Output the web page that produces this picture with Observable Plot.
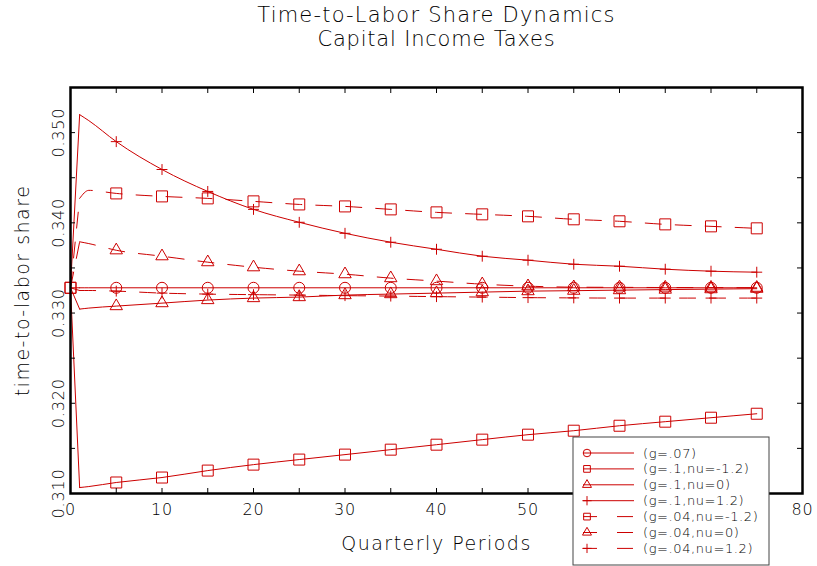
<!DOCTYPE html>
<html>
<head>
<meta charset="utf-8">
<script src="https://cdn.jsdelivr.net/npm/d3@7"></script>
<script src="https://cdn.jsdelivr.net/npm/@observablehq/plot@0.6"></script>
<style>
  html, body { margin: 0; padding: 0; background: #fff; }
  #chart { width: 817px; height: 566px; }
</style>
</head>
<body>
<div id="chart"></div>
<script>
// ---------------- data ----------------
const chartTitle = "Time-to-Labor Share Dynamics";
const chartSubtitle = "Capital Income Taxes";
const xTitle = "Quarterly Periods";
const yTitle = "time-to-labor share";

const periods = [0, 1, 2, 5, 10, 15, 20, 25, 30, 35, 40, 45, 50, 55, 60, 65, 70, 75];

const g07 =        [0.3328, 0.3328, 0.3328, 0.3328, 0.3328, 0.3328, 0.3328, 0.3328, 0.3328, 0.3328, 0.3328, 0.3328, 0.3328, 0.3328, 0.3328, 0.3328, 0.3328, 0.3328];
const g10_nuM12 =  [0.3328, 0.31066, 0.31077, 0.31122, 0.31177, 0.31254, 0.3132, 0.31376, 0.31431, 0.31486, 0.31541, 0.31597, 0.31652, 0.31696, 0.31751, 0.31796, 0.3184, 0.31884];
const g10_nu0 =    [0.3328, 0.33044, 0.33055, 0.33077, 0.3311, 0.33144, 0.33166, 0.33177, 0.33199, 0.3321, 0.33221, 0.33232, 0.33243, 0.33248, 0.33254, 0.3326, 0.33265, 0.3327];
const g10_nu12 =   [0.3328, 0.35199, 0.35133, 0.349, 0.34591, 0.34348, 0.34149, 0.34006, 0.33884, 0.33785, 0.33707, 0.3363, 0.33586, 0.33541, 0.33519, 0.33486, 0.33464, 0.33453];
const g04_nuM12 =  [0.3328, 0.34271, 0.3436, 0.34326, 0.34293, 0.34271, 0.34238, 0.34204, 0.34182, 0.34149, 0.34116, 0.34094, 0.34072, 0.34039, 0.34017, 0.33983, 0.33961, 0.33939];
const g04_nu0 =    [0.3328, 0.3379, 0.3377, 0.33696, 0.3363, 0.33564, 0.33508, 0.33464, 0.33431, 0.33387, 0.33354, 0.3332, 0.33298, 0.33287, 0.33285, 0.33283, 0.33282, 0.33281];
const g04_nu12 =   [0.3328, 0.3325, 0.3325, 0.33243, 0.33221, 0.3321, 0.33204, 0.33199, 0.33193, 0.33188, 0.33182, 0.33177, 0.33171, 0.33168, 0.33166, 0.33166, 0.33166, 0.33166];

const seriesLabels  = ["(g=.07)", "(g=.1,nu=-1.2)", "(g=.1,nu=0)", "(g=.1,nu=1.2)", "(g=.04,nu=-1.2)", "(g=.04,nu=0)", "(g=.04,nu=1.2)"];
const seriesValues  = [g07, g10_nuM12, g10_nu0, g10_nu12, g04_nuM12, g04_nu0, g04_nu12];
const seriesSymbols = ["circle", "square", "triangle", "plus", "square", "triangle", "plus"];
const seriesDashed  = [false, false, false, false, true, true, true];

// 60 and 70 sit under the legend box in the reference, so only the visible labels are kept
const xTickLabels = [0, 10, 20, 30, 40, 50, 80];
const xMinorTicks = [5, 10, 15, 20, 25, 30, 35, 40, 45, 50, 55, 60, 65, 70, 75];
const yTickLabels = [0.310, 0.320, 0.330, 0.340, 0.350];
const yMinorTicks = [0.315, 0.320, 0.325, 0.330, 0.335, 0.340, 0.345, 0.350];
const xDomain = [0, 80];
const yDomain = [0.310, 0.355];

// ---------------- build ----------------
const RED = "#cc0000";
const DASH = "16,14";
const FONT = "'DejaVu Sans', Verdana, sans-serif";
const TEXT = "#000";

const rows = [];
seriesLabels.forEach((s, i) => {
  periods.forEach((p, j) => {
    rows.push({series: s, x: p, y: seriesValues[i][j], sym: seriesSymbols[i], dashed: seriesDashed[i]});
  });
});

const isMarker = d => d.x % 5 === 0 && (d.x > 0 || d.sym === "square");
const symR = {circle: 5.5, square: 6.2, triangle: 4.6, plus: 3.6};

const lineMarks = [];
for (const dashed of [false, true]) {
  const sub = rows.filter(d => d.dashed === dashed);
  const opts = {stroke: RED, strokeWidth: 1, strokeDasharray: dashed ? DASH : null};
  lineMarks.push(Plot.line(sub.filter(d => d.x <= 1), {x: "x", y: "y", z: "series", curve: "linear", ...opts}));
  lineMarks.push(Plot.line(sub.filter(d => d.x >= 1), {x: "x", y: "y", z: "series", curve: "monotone-x", ...opts}));
}
const dotMarks = ["circle", "square", "triangle", "plus"].map(sym =>
  Plot.dot(rows.filter(d => d.sym === sym && isMarker(d)), {
    x: "x", y: "y", symbol: () => sym, r: symR[sym], stroke: RED, fill: "none", strokeWidth: 1
  })
);

const plot = Plot.plot({
  width: 817,
  height: 566,
  marginLeft: 70,
  marginRight: 15,
  marginTop: 87,
  marginBottom: 73,
  style: {fontFamily: FONT, fontSize: "16px", fontWeight: 200, background: "white", color: TEXT},
  x: {domain: xDomain, label: null},
  y: {domain: yDomain, label: null},
  symbol: {type: "identity"},
  marks: [
    ...lineMarks,
    ...dotMarks,
    // tick labels
    Plot.axisX({ticks: xTickLabels, tickSize: 0, tickPadding: 10, fontSize: 16, tickFormat: d3.format("d"), label: null}),
    Plot.axisY({ticks: yTickLabels, tickSize: 0, tickPadding: 7, fontSize: 16, tickRotate: -90, tickFormat: d3.format(".3f"), label: null}),
    // inward tick marks on all four sides
    Plot.axisX({anchor: "bottom", ticks: xMinorTicks, tickSize: -5, tickFormat: () => "", label: null}),
    Plot.axisX({anchor: "top", ticks: xMinorTicks, tickSize: -5, tickFormat: () => "", label: null}),
    Plot.axisY({anchor: "left", ticks: yMinorTicks, tickSize: -5, tickFormat: () => "", label: null}),
    Plot.axisY({anchor: "right", ticks: yMinorTicks, tickSize: -6, tickFormat: () => "", label: null}),
    Plot.frame({stroke: "black", strokeWidth: 2.5}),
    // titles
    Plot.text([chartTitle], {text: d => d, frameAnchor: "top", textAnchor: "middle", lineAnchor: "middle", dy: -72, fontSize: 21, fill: TEXT}),
    Plot.text([chartSubtitle], {text: d => d, frameAnchor: "top", textAnchor: "middle", lineAnchor: "middle", dy: -48, fontSize: 21, fill: TEXT}),
    Plot.text([xTitle], {text: d => d, frameAnchor: "bottom", textAnchor: "middle", lineAnchor: "middle", dy: 50, fontSize: 19, fill: TEXT}),
    Plot.text([yTitle], {text: d => d, frameAnchor: "left", textAnchor: "middle", lineAnchor: "middle", dx: -48, rotate: -90, fontSize: 19, fill: TEXT})
  ]
});

document.getElementById("chart").appendChild(plot);

// letter spacing for the wide plotter-style lettering
const spacing = new Map([[chartTitle, 1.2], [chartSubtitle, 0.8], [xTitle, 1.5], [yTitle, 1.5]]);
d3.select(plot).selectAll("text").each(function() {
  const t = this.textContent;
  if (spacing.has(t)) this.setAttribute("letter-spacing", spacing.get(t));
  else if (/^\d/.test(t)) this.setAttribute("letter-spacing", 0.8);
});

// ---------------- legend ----------------
const svg = d3.select(plot);
const lg = svg.append("g").attr("font-family", FONT).attr("text-anchor", "start");
const box = {x: 573, y: 437, w: 196, h: 128};
lg.append("rect").attr("x", box.x).attr("y", box.y).attr("width", box.w).attr("height", box.h)
  .attr("fill", "white").attr("stroke", "#444").attr("stroke-width", 1);
const legSym = {circle: d3.symbolCircle, square: d3.symbolSquare, triangle: d3.symbolTriangle, plus: d3.symbolPlus};
const legSize = {circle: 45, square: 45, triangle: 35, plus: 30};
seriesLabels.forEach((s, i) => {
  const y = box.y + 16 + i * 15.9;
  const g = lg.append("g");
  if (seriesDashed[i]) {
    g.append("line").attr("x1", 583).attr("x2", 597).attr("y1", y).attr("y2", y).attr("stroke", RED);
    g.append("line").attr("x1", 617).attr("x2", 633).attr("y1", y).attr("y2", y).attr("stroke", RED);
  } else {
    g.append("line").attr("x1", 583).attr("x2", 634).attr("y1", y).attr("y2", y).attr("stroke", RED);
  }
  g.append("path").attr("d", d3.symbol(legSym[seriesSymbols[i]], legSize[seriesSymbols[i]])())
    .attr("transform", `translate(587,${y})`).attr("fill", "none").attr("stroke", RED);
  g.append("text").attr("x", 643).attr("y", y).attr("dy", "0.35em").attr("font-size", 13)
    .attr("font-weight", 200).attr("letter-spacing", 0.6).attr("text-anchor", "start")
    .attr("fill", TEXT).text(s);
});
</script>
</body>
</html>
